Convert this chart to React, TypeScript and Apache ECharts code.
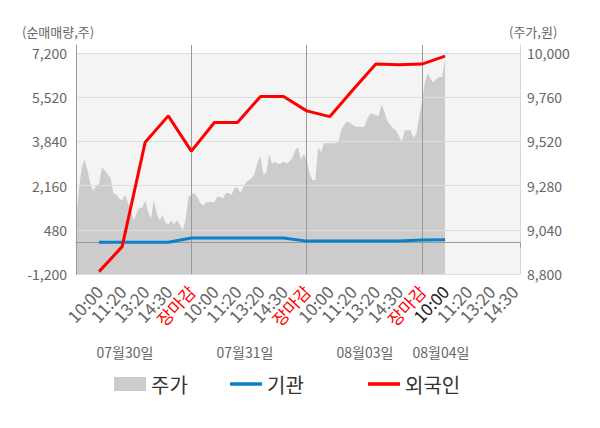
import React, { useEffect, useRef } from 'react';
import * as echarts from 'echarts';

const FONT = '"Noto Sans CJK KR", "Noto Sans", sans-serif';

// x axis: 8 samples per label slot, 155 samples across the full axis
const POINTS_PER_SLOT = 8;
const TOTAL_POINTS = 155;

const slotLabels = [
  '10:00', '11:20', '13:20', '14:30', '장마감',
  '10:00', '11:20', '13:20', '14:30', '장마감',
  '10:00', '11:20', '13:20', '14:30', '장마감',
  '10:00', '11:20', '13:20', '14:30',
];
const currentLabelSlot = 16; // highlighted "10:00" of the last day
const dayBoundaryIndices = [40, 80, 120];
const tickIndices = [0, 40, 80, 120, 154];

const dateLabels = ['07월30일', '07월31일', '08월03일', '08월04일'];

const leftTicks = [-1200, 480, 2160, 3840, 5520, 7200];
const rightTicks = [8800, 9040, 9280, 9520, 9760, 10000];

// 주가 (price), sampled every 1/8 slot from the start of 07/30
const priceValues = [
  9080, 9260, 9380, 9420, 9360, 9290, 9250, 9280, 9290, 9380, 9360, 9340, 9320, 9240, 9230, 9210,
  9200, 9230, 9190, 9150, 9090, 9130, 9160, 9160, 9200, 9140, 9100, 9200, 9130, 9090, 9120, 9080,
  9070, 9090, 9070, 9090, 9070, 9040, 9090, 9220, 9230,
  9240, 9220, 9190, 9170, 9190, 9190, 9190, 9190, 9220, 9220, 9210, 9240, 9240, 9230, 9270, 9270,
  9240, 9270, 9300, 9310, 9320, 9350, 9410, 9440, 9340, 9350, 9450, 9400, 9410, 9400, 9400, 9410,
  9400, 9410, 9430, 9470, 9490, 9420, 9450, 9420,
  9350, 9310, 9310, 9490, 9460, 9510, 9510, 9510, 9510, 9510, 9520, 9580, 9610, 9630, 9620, 9610,
  9600, 9600, 9600, 9600, 9640, 9670, 9670, 9660, 9660, 9720, 9680, 9630, 9610, 9590, 9580, 9550,
  9520, 9580, 9580, 9580, 9540, 9560, 9650, 9740,
  9840, 9890, 9860, 9840, 9860, 9870, 9870, 9970,
];

// 기관 / 외국인 net volume at each label slot (slot 1 .. 16)
const institutionValues = [10, 10, 10, 10, 165, 165, 165, 165, 165, 50, 50, 50, 50, 55, 95, 100];
const foreignValues = [-1110, -160, 3810, 4810, 3470, 4560, 4560, 5550, 5550, 5000, 4780, 5790, 6780, 6750, 6780, 7080];

const categories = Array.from({ length: TOTAL_POINTS }, (_, i) => String(i));
const slotOfIndex = (i: number) => (i > 0 && i % POINTS_PER_SLOT === 0 ? i / POINTS_PER_SLOT : -1);
const toSlotPairs = (vals: number[]) => vals.map((v, k) => [(k + 1) * POINTS_PER_SLOT, v]);
const fmt = (v: number) => v.toLocaleString('en-US');

export default function App() {
  const ref = useRef<HTMLDivElement>(null);

  useEffect(() => {
    document.body.style.margin = '0';
    if (!ref.current) return;
    const chart = echarts.init(ref.current, undefined, { renderer: 'svg' });

    const gray = '#666666';
    const xFont = 17;
    const legendText = { fontSize: 20, color: '#333333', fontFamily: FONT };
    const option: any = {
      animation: false,
      textStyle: { fontFamily: FONT },
      grid: [
        { left: 76, right: 80, top: 53, bottom: 154, show: true, backgroundColor: '#f4f4f4', borderWidth: 0 },
        { left: 76, right: 80, top: 45, bottom: 154, show: false },
      ],
      xAxis: [
        {
          type: 'category',
          gridIndex: 0,
          data: categories,
          boundaryGap: false,
          z: 3,
          axisLine: { show: true, lineStyle: { color: '#999999', width: 1 } },
          axisTick: {
            show: true,
            length: 5,
            interval: (i: number) => tickIndices.includes(i),
            lineStyle: { color: '#999999' },
          },
          axisLabel: {
            interval: (i: number) => {
              const s = slotOfIndex(i);
              return s >= 1 && s <= slotLabels.length;
            },
            showMinLabel: true,
            showMaxLabel: true,
            hideOverlap: false,
            rotate: 47,
            margin: 14,
            fontSize: xFont,
            color: gray,
            fontFamily: FONT,
            formatter: (_v: string, i: number) => {
              const s = slotOfIndex(i);
              if (s < 1) return '';
              const t = slotLabels[s - 1];
              if (t === '장마감') return '{r|' + t + '}';
              if (s === currentLabelSlot) return '{d|' + t + '}';
              return t;
            },
            rich: {
              r: { color: '#ff0000', fontSize: xFont, fontFamily: FONT },
              d: { color: '#222222', fontSize: xFont, fontFamily: FONT },
            },
          },
          splitLine: { show: false },
        },
        {
          type: 'category',
          gridIndex: 1,
          data: categories,
          boundaryGap: false,
          z: 3,
          axisLine: { show: false },
          axisTick: { show: false },
          axisLabel: { show: false },
          splitLine: {
            show: true,
            interval: (i: number) => dayBoundaryIndices.includes(i),
            lineStyle: { color: '#999999', width: 1 },
          },
        },
      ],
      yAxis: [
        {
          type: 'value',
          gridIndex: 0,
          min: leftTicks[0],
          max: leftTicks[leftTicks.length - 1],
          interval: leftTicks[1] - leftTicks[0],
          z: 3,
          axisLine: { show: false },
          axisTick: { show: false },
          axisLabel: { color: gray, fontSize: 14, margin: 9, fontFamily: FONT, formatter: fmt },
          splitLine: { show: true, lineStyle: { color: '#dddddd', width: 1 } },
        },
        {
          type: 'value',
          gridIndex: 0,
          position: 'right',
          min: rightTicks[0],
          max: rightTicks[rightTicks.length - 1],
          interval: rightTicks[1] - rightTicks[0],
          z: 3,
          axisLine: { show: false },
          axisTick: { show: false },
          axisLabel: { color: gray, fontSize: 14, margin: 7, fontFamily: FONT, formatter: fmt },
          splitLine: { show: false },
        },
        {
          type: 'value',
          gridIndex: 1,
          min: 0,
          max: 1,
          z: 3,
          axisLine: { show: true, lineStyle: { color: '#999999' } },
          axisTick: { show: false },
          axisLabel: { show: false },
          splitLine: { show: false },
        },
        {
          type: 'value',
          gridIndex: 1,
          position: 'right',
          min: 0,
          max: 1,
          z: 3,
          axisLine: { show: true, lineStyle: { color: '#d8d8d8' } },
          axisTick: { show: false },
          axisLabel: { show: false },
          splitLine: { show: false },
        },
      ],
      legend: [
        {
          data: [{ name: '주가', icon: 'rect' }],
          left: 109,
          top: 369,
          itemWidth: 32,
          itemHeight: 14,
          textStyle: legendText,
          selectedMode: false,
        },
        {
          data: [{ name: '기관', icon: 'rect' }],
          left: 225,
          top: 369,
          itemWidth: 32,
          itemHeight: 3.5,
          textStyle: legendText,
          selectedMode: false,
        },
        {
          data: [{ name: '외국인', icon: 'rect' }],
          left: 363,
          top: 369,
          itemWidth: 32,
          itemHeight: 3.5,
          textStyle: legendText,
          selectedMode: false,
        },
      ],
      graphic: [
        {
          type: 'text',
          left: 22,
          top: 25,
          style: { text: '(순매매량,주)', fontSize: 13, fill: '#666666', fontFamily: FONT },
        },
        {
          type: 'text',
          left: 509,
          top: 25,
          style: { text: '(주가,원)', fontSize: 13, fill: '#666666', fontFamily: FONT },
        },
        ...dateLabels.map((t, k) => ({
          type: 'text',
          x: [125, 245, 365, 441][k],
          y: 352,
          style: {
            text: t,
            fontSize: 14,
            fill: '#666666',
            fontFamily: FONT,
            align: 'center',
            verticalAlign: 'middle',
          },
        })),
      ],
      series: [
        {
          name: '주가',
          type: 'line',
          xAxisIndex: 0,
          yAxisIndex: 1,
          data: priceValues,
          symbol: 'none',
          z: 2,
          itemStyle: { color: '#cccccc' },
          lineStyle: { width: 0, color: '#cccccc' },
          areaStyle: { color: '#cccccc', opacity: 1, origin: 'start' },
        },
        {
          name: '기관',
          type: 'line',
          xAxisIndex: 0,
          yAxisIndex: 0,
          data: toSlotPairs(institutionValues),
          symbol: 'none',
          z: 4,
          itemStyle: { color: '#0a7fcc' },
          lineStyle: { width: 3, color: '#0a7fcc' },
        },
        {
          name: '외국인',
          type: 'line',
          xAxisIndex: 0,
          yAxisIndex: 0,
          data: toSlotPairs(foreignValues),
          symbol: 'none',
          z: 4,
          itemStyle: { color: '#ff0000' },
          lineStyle: { width: 3, color: '#ff0000' },
          markLine: {
            silent: true,
            symbol: 'none',
            z: 3,
            label: { show: false },
            lineStyle: { color: '#888888', width: 1, type: 'solid' },
            data: [{ yAxis: 0 }],
          },
        },
      ],
    };

    chart.setOption(option);
    return () => chart.dispose();
  }, []);

  return <div ref={ref} style={{ width: 600, height: 428 }} />;
}
